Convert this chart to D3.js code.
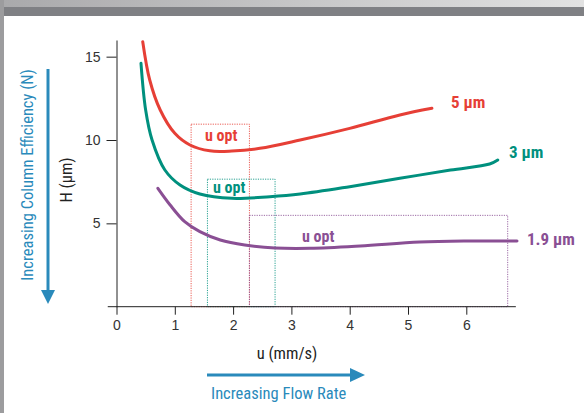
<!DOCTYPE html>
<html>
<head>
<meta charset="utf-8">
<script src="https://cdn.jsdelivr.net/npm/d3@7"></script>
<style>
  body { margin: 0; background: #fff; }
  svg { display: block; font-family: "Liberation Sans Narrow", "Roboto Condensed", "Liberation Sans", sans-serif; }
</style>
</head>
<body>
<svg id="chart" width="584" height="413"></svg>
<script>
  // values: u (mm/s) vs H (um)
  const red5 = [[0.45,15.9],[0.57,13.6],[0.75,11.8],[1.0,10.4],[1.26,9.7],[1.6,9.35],[1.98,9.34],[2.46,9.5],[3.15,10.0],[4.0,10.7],[4.86,11.5],[5.41,11.9]];
  const teal3 = [[0.42,14.6],[0.5,11.8],[0.61,10.0],[0.83,8.2],[1.09,7.3],[1.43,6.76],[1.98,6.5],[2.63,6.6],[3.15,6.76],[4.0,7.2],[4.86,7.7],[5.73,8.2],[6.4,8.56],[6.54,8.8]];
  const purple19 = [[0.71,7.1],[0.92,6.1],[1.17,5.1],[1.43,4.5],[1.78,4.0],[2.2,3.7],[2.72,3.52],[3.32,3.5],[4.18,3.64],[5.2,3.88],[6.05,3.94],[6.87,3.94]];
  const seriesNames = ["5 µm", "3 µm", "1.9 µm"];
  // optimum boxes: [u left, u right, H top]
  const optBoxes = [[1.28, 2.28, 10.95], [1.56, 2.72, 7.65], [2.28, 6.71, 5.48]];
  const xTicks = [0, 1, 2, 3, 4, 5, 6];
  const yTicks = [5, 10, 15];

  const colors = ["#e63f36", "#00907e", "#8a4f94"];
  const blue = "#2a8abb";

  const svg = d3.select("#chart");

  // page frame
  const grad = svg.append("defs").append("linearGradient").attr("id", "topg");
  grad.append("stop").attr("offset", "0%").attr("stop-color", "#a9a9ab");
  grad.append("stop").attr("offset", "100%").attr("stop-color", "#e2e2e2");
  svg.append("rect").attr("x", 0).attr("y", 0).attr("width", 584).attr("height", 8).attr("fill", "url(#topg)");
  svg.append("rect").attr("x", 0).attr("y", 7).attr("width", 584).attr("height", 9).attr("fill", "#7f8084");
  svg.append("rect").attr("x", 0).attr("y", 0).attr("width", 4).attr("height", 413).attr("fill", "#9c9c9e");

  const x = d3.scaleLinear().domain([0, 7]).range([116.5, 116.5 + 58.3 * 7]);
  const y = d3.scaleLinear().domain([0, 16]).range([306.7, 40]);

  // dotted optimum boxes
  optBoxes.forEach((b, i) => {
    svg.append("rect")
      .attr("x", x(b[0])).attr("y", y(b[2]))
      .attr("width", x(b[1]) - x(b[0])).attr("height", y(0) - y(b[2]))
      .attr("fill", "none").attr("stroke", colors[i]).attr("stroke-width", 1)
      .attr("stroke-dasharray", "1.2,1.2").attr("opacity", 0.85);
  });

  // axes
  const xAxis = svg.append("g").attr("transform", `translate(0,${y(0)})`)
    .call(d3.axisBottom(x).tickValues(xTicks).tickSize(8).tickPadding(5).tickFormat(d3.format("d")));
  xAxis.select(".domain").remove();
  svg.append("line").attr("x1", x(-0.15)).attr("x2", x(6.85)).attr("y1", y(0)).attr("y2", y(0))
    .attr("stroke", "#222").attr("stroke-width", 1);

  const yAxis = svg.append("g").attr("transform", `translate(${x(0)},0)`)
    .call(d3.axisLeft(y).tickValues(yTicks).tickSize(10).tickSizeOuter(0).tickPadding(6));

  svg.selectAll(".tick text").attr("font-size", 14).attr("fill", "#333")
    .attr("font-family", "Liberation Sans Narrow, Liberation Sans, sans-serif");
  svg.selectAll(".tick line, .domain").attr("stroke", "#222");

  svg.append("text").attr("x", 287).attr("y", 359).attr("text-anchor", "middle")
    .attr("font-size", 16.5).attr("fill", "#222").text("u (mm/s)");
  svg.append("text").attr("transform", "translate(72,180) rotate(-90)").attr("text-anchor", "middle")
    .attr("font-size", 16.5).attr("fill", "#222").text("H (µm)");

  // curves
  const line = d3.line().x(d => x(d[0])).y(d => y(d[1])).curve(d3.curveCatmullRom.alpha(0.5));
  [red5, teal3, purple19].forEach((s, i) => {
    svg.append("path").datum(s).attr("d", line)
      .attr("fill", "none").attr("stroke", colors[i]).attr("stroke-width", 3).attr("stroke-linecap", "round");
  });

  // series labels
  const labelPos = [[451, 108], [509, 158], [527, 245]];
  seriesNames.forEach((n, i) => {
    svg.append("text").attr("x", labelPos[i][0]).attr("y", labelPos[i][1])
      .attr("font-size", 17).attr("font-weight", "bold").attr("fill", colors[i]).text(n);
  });

  // u opt labels
  const optPos = [[205, 141], [213, 193], [302, 242]];
  optPos.forEach((p, i) => {
    svg.append("text").attr("x", p[0]).attr("y", p[1])
      .attr("font-size", 16).attr("font-weight", "bold").attr("fill", colors[i]).text("u opt");
  });

  // arrows
  svg.append("line").attr("x1", 48).attr("x2", 48).attr("y1", 69).attr("y2", 292)
    .attr("stroke", blue).attr("stroke-width", 3);
  svg.append("path").attr("d", "M41,290 L55,290 L48,304 Z").attr("fill", blue);
  svg.append("text").attr("transform", "translate(33,175) rotate(-90)").attr("text-anchor", "middle")
    .attr("font-size", 16.5).attr("fill", blue).text("Increasing Column Efficiency (N)");

  svg.append("line").attr("x1", 207).attr("x2", 352).attr("y1", 375).attr("y2", 375)
    .attr("stroke", blue).attr("stroke-width", 3);
  svg.append("path").attr("d", "M350,368 L350,382 L365,375 Z").attr("fill", blue);
  svg.append("text").attr("x", 211).attr("y", 399)
    .attr("font-size", 16.5).attr("fill", blue).text("Increasing Flow Rate");
</script>
</body>
</html>
